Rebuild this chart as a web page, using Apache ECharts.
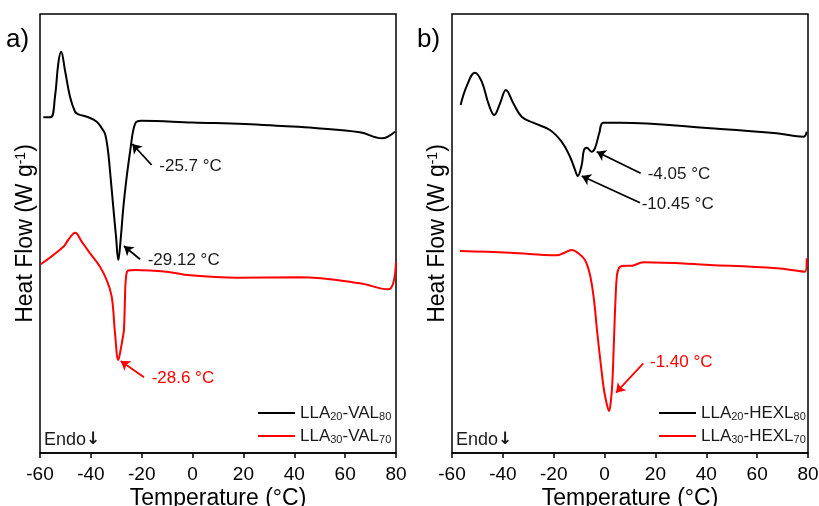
<!DOCTYPE html>
<html><head><meta charset="utf-8">
<script src="https://cdn.jsdelivr.net/npm/echarts@6/dist/echarts.min.js"></script>
<style>html,body{margin:0;padding:0;background:#fff}#c{width:819px;height:506px}</style>
</head><body><div id="c"></div>
<script>
// ---- data (temperature in °C, heat flow in arbitrary units, upward = exo) ----
const tA20 = [-58.7,-55.8,-54.1,-52.8,-51.7,-50.2,-48.2,-46.2,-44.9,-41.0,-37.7,-35.7,-34.4,-33.3,-32.5,-31.2,-30.1,-29.2,-28.3,-27.2,-25.9,-24.3,-23.3,-22.0,-20.0,0,20.5,35,48,65.8,74.4,79.6];
const hA20 = [335.7,335.7,356.3,389.7,401.3,383,356.3,341.3,338.7,335.7,331.3,324.7,319,303,283,246.3,216.3,193,213,246.3,276.3,306.3,323,331.3,332.3,330.5,329,327,325,320.7,314.7,321.3];
const tA30 = [-59.7,-50.8,-48.9,-46.2,-43.6,-40.3,-36.4,-33.8,-31.8,-30.5,-29.2,-28.3,-27.6,-27.0,-26.6,-26.2,-25.3,-22.6,-10.2,-1.0,17.3,42.2,65.8,77.0,78.9,80];
const hA30 = [188.7,206.3,213,220.3,211.3,199.7,186.3,173,156.3,119.7,93,103,113,123,153,175,182.5,183,181.3,177.7,175.3,175.7,169.7,163.7,169.7,190.7];
const tB20 = [-56.6,-54.3,-51.0,-48.3,-45.7,-43.4,-41.1,-38.8,-35.9,-32.6,-28.1,-21.5,-16.9,-13.6,-11.6,-10.6,-9.0,-8.1,-7.0,-5.1,-3.8,-2.1,-0.5,6.1,41.5,67.7,78.2,79.5];
const hB20 = [348,366.3,380.3,371.3,349.7,338,349.7,363,349.7,336.3,330.3,323,311.3,296.3,283,277,288,303,305.3,301.3,304.7,319.7,330.3,330.3,324.7,319.7,316.3,321.3];
const tB30 = [-56.9,-37.2,-18.8,-16.2,-12.9,-10.3,-7.7,-5.73,-4.16,-2.98,-1.41,-0.23,0.95,1.74,2.52,3.11,3.70,4.29,4.88,5.67,6.85,10.7,15.2,41.5,67.7,78.8,79.5];
const hB30 = [202,200.3,197.7,199.7,203,199.7,193,178,153,123,87,63,48,42,53,73,113,153,178,185,187,187.3,190.7,188,184.7,181.3,194.7];
const xTicks = [-60,-40,-20,0,20,40,60,80];
const seriesNames = ['LLA20-VAL80','LLA30-VAL70','LLA20-HEXL80','LLA30-HEXL70'];
const legendRich = {
  'LLA20-VAL80':'LLA{s|20}-VAL{s|80}', 'LLA30-VAL70':'LLA{s|30}-VAL{s|70}',
  'LLA20-HEXL80':'LLA{s|20}-HEXL{s|80}', 'LLA30-HEXL70':'LLA{s|30}-HEXL{s|70}'
};
// annotations: [label, text-anchor T, text-anchor H, arrow tail T, tail H, arrow head T, head H]
const notesA20 = [['-25.7 °C',-13.1,286.3,-16.08,288,-23.7,309],['-29.12 °C',-17.65,193,-20.68,193.7,-26.97,207]];
const notesA30 = [['-28.6 °C',-16.1,74.7,-19.1,75.7,-28.27,92]];
const notesB20 = [['-4.05 °C',16.96,278.7,14.2,279.7,-3.1,301.3],['-10.45 °C',14.6,249,13.93,250.3,-9.0,277]];
const notesB30 = [['-1.40 °C',17.86,90.3,15.23,89.7,4.49,60.3]];

const F = '"Liberation Sans", Arial, sans-serif';
const zip = (t,h) => t.map((x,i)=>[x,h[i]]);

function mkSeries(name, t, h, color, gi, notes){
  return {
    name, type:'line', xAxisIndex:gi, yAxisIndex:gi, data:zip(t,h),
    showSymbol:false, symbol:'none', smooth:0.4,
    lineStyle:{color, width:2}, itemStyle:{color}, silent:true, animation:false,
    markLine:{
      silent:true, symbol:['none','arrow'], symbolSize:9, animation:false,
      label:{show:false}, emphasis:{disabled:true},
      lineStyle:{color, width:1.8, type:'solid'},
      data: notes.map(n=>[{coord:[n[3],n[4]]},{coord:[n[5],n[6]]}])
    },
    markPoint:{
      silent:true, symbol:'circle', symbolSize:0, animation:false,
      label:{show:true, position:'right', distance:0, formatter:'{b}', color: color==='#000'?'#1a1a1a':color, fontSize:17, fontFamily:F},
      data: notes.map(n=>({name:n[0], coord:[n[1],n[2]]}))
    }
  };
}

function mkX(gi){
  return {gridIndex:gi, type:'value', min:xTicks[0], max:xTicks[xTicks.length-1], interval:20,
    axisLine:{show:true, onZero:false, lineStyle:{color:'#000', width:1.5}},
    axisTick:{show:true, inside:false, length:5, lineStyle:{color:'#000', width:1.5}},
    axisLabel:{fontSize:19, color:'#000', margin:12, fontFamily:F, showMinLabel:true, showMaxLabel:true},
    splitLine:{show:false},
    name:'Temperature (°C)', nameLocation:'middle', nameGap:34, nameMoveOverlap:false,
    nameTextStyle:{fontSize:23, color:'#000', fontFamily:F}};
}
function mkY(gi){
  return {gridIndex:gi, type:'value', min:0, max:439,
    axisLine:{show:false}, axisTick:{show:false}, axisLabel:{show:false}, splitLine:{show:false},
    name:'Heat Flow (W g{sup|-1})', nameLocation:'middle', nameGap:3, nameRotate:90, nameMoveOverlap:false,
    nameTextStyle:{fontSize:23, color:'#000', fontFamily:F,
      rich:{sup:{fontSize:14, fontFamily:F, color:'#000', verticalAlign:'top', padding:[0,0,8,0]}}}};
}
function mkLegend(names, left){
  return {data:names, orient:'vertical', left, top:399, icon:'rect', itemWidth:37, itemHeight:2, itemGap:5,
    selectedMode:false,
    formatter: n => legendRich[n],
    textStyle:{fontSize:17, color:'#1a1a1a', fontFamily:F, lineHeight:18,
      rich:{s:{fontSize:11, fontFamily:F, color:'#1a1a1a', verticalAlign:'bottom', lineHeight:12}}}};
}

const endoStyle = (x)=>({type:'text', left:x, top:431, style:{text:'Endo{a|↓}', font:'18px '+F, fill:'#1a1a1a',
  rich:{a:{fontFamily:'"DejaVu Sans", sans-serif', fontWeight:'bold', fontSize:17, fill:'#1a1a1a'}}}});

const chart = echarts.init(document.getElementById('c'), null, {renderer:'canvas'});
chart.setOption({
  animation:false, backgroundColor:'#fff',
  grid:[
    {left:40, right:423, top:14, bottom:53, show:true, borderColor:'#000', borderWidth:1.5, containLabel:false, outerBoundsMode:'none'},
    {left:452, right:11, top:14, bottom:53, show:true, borderColor:'#000', borderWidth:1.5, containLabel:false, outerBoundsMode:'none'}
  ],
  xAxis:[mkX(0), mkX(1)],
  yAxis:[mkY(0), mkY(1)],
  legend:[mkLegend(seriesNames.slice(0,2), 253), mkLegend(seriesNames.slice(2,4), 654)],
  series:[
    mkSeries(seriesNames[0], tA20, hA20, '#000', 0, notesA20),
    mkSeries(seriesNames[1], tA30, hA30, '#ff0000', 0, notesA30),
    mkSeries(seriesNames[2], tB20, hB20, '#000', 1, notesB20),
    mkSeries(seriesNames[3], tB30, hB30, '#ff0000', 1, notesB30)
  ],
  graphic:[
    {type:'text', left:6, top:27, style:{text:'a)', font:'26px '+F, fill:'#000'}},
    {type:'text', left:417, top:27, style:{text:'b)', font:'26px '+F, fill:'#000'}},
    endoStyle(44), endoStyle(456)
  ]
});
</script></body></html>
